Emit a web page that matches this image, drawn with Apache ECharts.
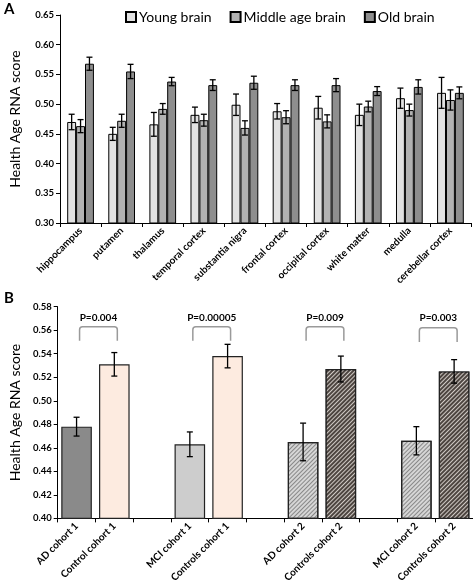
<!DOCTYPE html>
<html><head><meta charset="utf-8">
<script src="https://cdn.jsdelivr.net/npm/echarts@6/dist/echarts.min.js"></script>
<style>html,body{margin:0;padding:0;background:#fff}#c{width:473px;height:585px}</style>
</head><body><div id="c"></div>
<script>
// ---------- Panel A data ----------
const regions = ['hippocampus','putamen','thalamus','temporal cortex','substantia nigra','frontal cortex','occipital cortex','white matter','medulla','cerebellar cortex'];
const groupNames = ['Young brain','Middle age brain','Old brain'];
const youngVal  = [0.470,0.450,0.466,0.482,0.499,0.488,0.494,0.482,0.510,0.519];
const youngErr  = [0.013,0.011,0.020,0.013,0.018,0.013,0.019,0.018,0.017,0.026];
const middleVal = [0.463,0.472,0.492,0.473,0.460,0.478,0.471,0.496,0.490,0.507];
const middleErr = [0.011,0.011,0.009,0.010,0.012,0.011,0.011,0.009,0.010,0.017];
const oldVal    = [0.568,0.555,0.538,0.532,0.536,0.532,0.532,0.522,0.529,0.519];
const oldErr    = [0.011,0.012,0.007,0.009,0.011,0.009,0.011,0.0075,0.012,0.010];
const yTicksA = {min:0.30, max:0.65, step:0.05};

// ---------- Panel B data ----------
const cohorts = ['AD cohort 1','Control cohort 1','','MCI cohort 1','Controls cohort 1','','AD cohort 2','Controls cohort 2','','MCI cohort 2','Controls cohort 2'];
const cohortVal = [0.478,0.531,null,0.463,0.538,null,0.465,0.527,null,0.466,0.525];
const cohortErr = [0.008,0.010,null,0.0105,0.010,null,0.016,0.011,null,0.012,0.010];
const pLabels   = ['P=0.004','P=0.00005','P=0.009','P=0.003'];
const pPairs    = [[0,1],[3,4],[6,7],[9,10]];
const pTop      = [0.563,0.563,0.563,0.562];
const pBottom   = [0.551,0.551,0.551,0.550];
const pTextY    = 0.5705;
const yTicksB = {min:0.40, max:0.58, step:0.02};

const FONT = 'Lato';
const colorsA = ['#e2e2e2','#b2b2b2','#8e8e8e'];
const hatchLight = {color:'rgba(110,110,110,0.75)', dashArrayX:[1,0], dashArrayY:[1,2], rotation:-Math.PI/4, symbol:'rect'};
const hatchDark = {color:'rgba(240,235,230,0.8)', dashArrayX:[1,0], dashArrayY:[1,2], rotation:-Math.PI/4, symbol:'rect'};
const styleB = [
  {color:'#8a8a8a'},
  {color:'#fdebe0'},
  null,
  {color:'#cdcdcd'},
  {color:'#fdebe0'},
  null,
  {color:'#d6d6d6', decal:hatchLight},
  {color:'#4d4540', decal:hatchDark},
  null,
  {color:'#d6d6d6', decal:hatchLight},
  {color:'#4d4540', decal:hatchDark}
];

const chart = echarts.init(document.getElementById('c'), null, {renderer:'canvas'});

const CAT_GAP_A = 0.35;
function errA(sIdx, vals, errs){
  return {
    type:'custom', xAxisIndex:0, yAxisIndex:0, z:10, silent:true,
    data: vals.map((v,i)=>[i, v, errs[i]]),
    renderItem: function(params, api){
      const i = api.value(0), v = api.value(1), e = api.value(2);
      const band = api.size([1,0])[0];
      const bw = band*(1-CAT_GAP_A)/3;
      const cx = api.coord([i, v])[0] + (sIdx-1)*bw;
      const yt = api.coord([i, v+e])[1], yb = api.coord([i, v-e])[1];
      const st = {stroke:'#000', lineWidth:1.3};
      return {type:'group', children:[
        {type:'line', shape:{x1:cx,y1:yt,x2:cx,y2:yb}, style:st},
        {type:'line', shape:{x1:cx-3,y1:yt,x2:cx+3,y2:yt}, style:st},
        {type:'line', shape:{x1:cx-3,y1:yb,x2:cx+3,y2:yb}, style:st}
      ]};
    }
  };
}

const axisLabelY = {fontFamily:FONT, fontWeight:'bold', fontSize:9.5, color:'#000', formatter:v=>v.toFixed(2), margin:6};
const axisLineBlack = {show:true, lineStyle:{color:'#000', width:1}};

const option = {
  animation:false,
  backgroundColor:'#fff',
  legend:{
    data:groupNames, left:120, top:5, itemWidth:10, itemHeight:10, itemGap:18,
    icon:'rect',
    textStyle:{fontFamily:FONT, fontSize:14, color:'#000', padding:[0,0,0,-2]}
  },
  grid:[
    {left:53, top:15, width:418, height:208},
    {left:50, top:306.7, width:423, height:215.6}
  ],
  xAxis:[
    {type:'category', gridIndex:0, data:regions, axisLine:axisLineBlack,
     axisTick:{show:true, lineStyle:{color:'#000'}, length:4},
     axisLabel:{interval:0, rotate:45, fontFamily:FONT, fontWeight:'bold', fontSize:10, color:'#000', margin:6}},
    {type:'category', gridIndex:1, data:cohorts, axisLine:axisLineBlack,
     axisTick:{show:true, lineStyle:{color:'#000'}, length:4},
     axisLabel:{interval:0, rotate:45, fontFamily:FONT, fontWeight:'bold', fontSize:10, color:'#000', margin:6}}
  ],
  yAxis:[
    {type:'value', gridIndex:0, min:yTicksA.min, max:yTicksA.max, interval:yTicksA.step,
     name:'Health Age RNA score', nameLocation:'middle', nameGap:38,
     nameTextStyle:{fontFamily:FONT, fontSize:14, color:'#000'},
     axisLine:axisLineBlack, axisTick:{show:true, length:4, lineStyle:{color:'#000'}},
     splitLine:{show:false}, axisLabel:axisLabelY},
    {type:'value', gridIndex:1, min:yTicksB.min, max:yTicksB.max, interval:yTicksB.step,
     name:'Health Age RNA score', nameLocation:'middle', nameGap:35,
     nameTextStyle:{fontFamily:FONT, fontSize:14, color:'#000'},
     axisLine:axisLineBlack, axisTick:{show:true, length:4, lineStyle:{color:'#000'}},
     splitLine:{show:false}, axisLabel:axisLabelY}
  ],
  graphic:[
    {type:'text', left:4, top:2, style:{text:'A', fontFamily:FONT, fontWeight:'bold', fontSize:15, fill:'#000'}},
    {type:'text', left:4, top:291, style:{text:'B', fontFamily:FONT, fontWeight:'bold', fontSize:15, fill:'#000'}}
  ],
  series:[
    {name:groupNames[0], type:'bar', xAxisIndex:0, yAxisIndex:0, data:youngVal, barGap:'0%', barCategoryGap:(CAT_GAP_A*100)+'%',
     itemStyle:{color:colorsA[0], borderColor:'#000', borderWidth:1}},
    {name:groupNames[1], type:'bar', xAxisIndex:0, yAxisIndex:0, data:middleVal, barGap:'0%', barCategoryGap:(CAT_GAP_A*100)+'%',
     itemStyle:{color:colorsA[1], borderColor:'#000', borderWidth:1}},
    {name:groupNames[2], type:'bar', xAxisIndex:0, yAxisIndex:0, data:oldVal, barGap:'0%', barCategoryGap:(CAT_GAP_A*100)+'%',
     itemStyle:{color:colorsA[2], borderColor:'#000', borderWidth:1}},
    errA(0, youngVal, youngErr),
    errA(1, middleVal, middleErr),
    errA(2, oldVal, oldErr),
    {type:'bar', xAxisIndex:1, yAxisIndex:1, barCategoryGap:'19%',
     data: cohortVal.map((v,i)=> v==null ? null : {value:v, itemStyle:Object.assign({borderColor:'#222', borderWidth:1.2}, styleB[i])})},
    {type:'custom', xAxisIndex:1, yAxisIndex:1, z:10, silent:true,
     data: cohortVal.map((v,i)=> v==null ? null : [i, v, cohortErr[i]]).filter(d=>d),
     renderItem: function(params, api){
       const i = api.value(0), v = api.value(1), e = api.value(2);
       const cx = api.coord([i, v])[0];
       const yt = api.coord([i, v+e])[1], yb = api.coord([i, v-e])[1];
       const st = {stroke:'#000', lineWidth:1.3};
       return {type:'group', children:[
         {type:'line', shape:{x1:cx,y1:yt,x2:cx,y2:yb}, style:st},
         {type:'line', shape:{x1:cx-3,y1:yt,x2:cx+3,y2:yt}, style:st},
         {type:'line', shape:{x1:cx-3,y1:yb,x2:cx+3,y2:yb}, style:st}
       ]};
     }},
    {type:'custom', xAxisIndex:1, yAxisIndex:1, z:10, silent:true,
     data: pPairs.map((p,k)=>[p[0], p[1], pTop[k], pBottom[k], k]),
     renderItem: function(params, api){
       const a = api.value(0), b = api.value(1), t = api.value(2), bt = api.value(3), k = api.value(4);
       const x1 = api.coord([a, t])[0] + 3, x2 = api.coord([b, t])[0] + 3;
       const yT = api.coord([a, t])[1], yB = api.coord([a, bt])[1];
       const yTxt = api.coord([a, pTextY])[1];
       const r = 3;
       return {type:'group', children:[
         {type:'path', shape:{pathData:
            'M'+x1+' '+yB+' L'+x1+' '+(yT+r)+' Q'+x1+' '+yT+' '+(x1+r)+' '+yT+
            ' L'+(x2-r)+' '+yT+' Q'+x2+' '+yT+' '+x2+' '+(yT+r)+' L'+x2+' '+yB},
          style:{stroke:'#9a9a9a', lineWidth:1.5, fill:null}},
         {type:'text', style:{text:pLabels[k], x:(x1+x2)/2, y:yTxt, align:'center', verticalAlign:'middle',
           fontFamily:FONT, fontWeight:'bold', fontSize:10, fill:'#000'}}
       ]};
     }}
  ]
};
chart.setOption(option);
</script></body></html>
